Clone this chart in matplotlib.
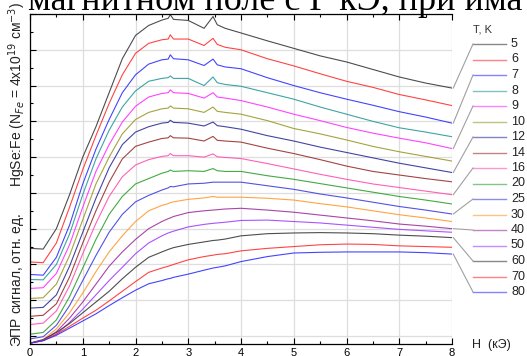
import matplotlib
matplotlib.use("Agg")
import matplotlib.pyplot as plt
from matplotlib.ticker import MultipleLocator, NullFormatter

# ---- data ----
H = [0, 0.25, 0.5, 0.75, 1.0, 1.25, 1.5, 1.75, 2.0, 2.25, 2.5, 2.62, 2.66, 2.72,
     3.0, 3.3, 3.47, 3.55, 3.7, 4.0, 4.5, 5.0, 5.5, 6.0, 6.5, 7.0, 7.5, 8.0]

temps = ["5", "6", "7", "8", "9", "10", "12", "14", "16", "20", "25", "30",
         "40", "50", "60", "70", "80"]

s5 = [2.45, 2.43, 3.0, 3.95, 5.0, 5.85, 6.8, 7.75, 8.4, 8.68, 8.83, 8.88, 8.98, 8.85, 8.82, 8.6, 8.93, 8.7, 8.6, 8.47, 8.25, 8.04, 7.83, 7.66, 7.45, 7.24, 7.07, 6.93]
s6 = [2.07, 2.05, 2.6, 3.6, 4.65, 5.6, 6.5, 7.3, 7.9, 8.18, 8.28, 8.3, 8.42, 8.3, 8.3, 8.12, 8.32, 8.15, 8.07, 8.0, 7.75, 7.55, 7.33, 7.12, 6.95, 6.75, 6.6, 6.44]
s7 = [1.72, 1.7, 2.2, 3.1, 4.25, 5.22, 6.05, 6.8, 7.3, 7.6, 7.72, 7.74, 7.86, 7.75, 7.72, 7.56, 7.74, 7.58, 7.52, 7.47, 7.22, 7.0, 6.8, 6.62, 6.45, 6.27, 6.12, 5.95]
s8 = [1.58, 1.57, 2.0, 2.85, 3.95, 4.95, 5.75, 6.4, 6.85, 7.12, 7.2, 7.22, 7.27, 7.2, 7.2, 7.0, 7.24, 7.08, 7.03, 6.98, 6.8, 6.62, 6.4, 6.2, 6.0, 5.82, 5.7, 5.57]
s9 = [1.33, 1.35, 1.75, 2.55, 3.6, 4.6, 5.35, 5.98, 6.42, 6.68, 6.78, 6.8, 6.88, 6.8, 6.78, 6.65, 6.8, 6.68, 6.65, 6.58, 6.4, 6.2, 6.02, 5.83, 5.67, 5.53, 5.4, 5.24]
s10 = [1.05, 1.07, 1.45, 2.25, 3.25, 4.25, 5.0, 5.65, 6.05, 6.25, 6.35, 6.37, 6.43, 6.37, 6.35, 6.25, 6.4, 6.28, 6.25, 6.2, 6.02, 5.8, 5.65, 5.48, 5.3, 5.15, 5.02, 4.89]
s12 = [0.78, 0.8, 1.15, 1.95, 2.9, 3.85, 4.7, 5.35, 5.7, 5.85, 5.95, 5.97, 6.03, 5.97, 5.95, 5.87, 5.98, 5.88, 5.85, 5.78, 5.6, 5.45, 5.28, 5.13, 4.98, 4.83, 4.7, 4.57]
s14 = [0.55, 0.58, 0.9, 1.65, 2.6, 3.5, 4.3, 4.95, 5.3, 5.42, 5.52, 5.54, 5.6, 5.54, 5.53, 5.45, 5.58, 5.47, 5.45, 5.42, 5.25, 5.1, 4.93, 4.75, 4.6, 4.5, 4.4, 4.31]
s16 = [0.32, 0.36, 0.7, 1.4, 2.3, 3.15, 3.9, 4.45, 4.78, 4.93, 5.02, 5.04, 5.1, 5.04, 5.04, 5.0, 5.09, 5.01, 4.99, 4.96, 4.82, 4.67, 4.52, 4.38, 4.25, 4.15, 4.05, 3.95]
s20 = [0.05, 0.1, 0.45, 1.1, 1.9, 2.7, 3.4, 3.9, 4.25, 4.4, 4.55, 4.6, 4.64, 4.6, 4.62, 4.6, 4.68, 4.62, 4.6, 4.6, 4.48, 4.38, 4.26, 4.14, 4.02, 3.9, 3.8, 3.69]
s25 = [-0.08, -0.02, 0.3, 0.85, 1.55, 2.25, 2.9, 3.4, 3.75, 3.93, 4.08, 4.14, 4.18, 4.17, 4.25, 4.27, 4.3, 4.3, 4.3, 4.3, 4.2, 4.1, 3.97, 3.86, 3.74, 3.62, 3.52, 3.41]
s30 = [-0.2, -0.1, 0.2, 0.65, 1.2, 1.8, 2.35, 2.8, 3.2, 3.5, 3.65, 3.7, 3.73, 3.75, 3.82, 3.86, 3.9, 3.88, 3.88, 3.88, 3.85, 3.8, 3.7, 3.61, 3.5, 3.39, 3.3, 3.2]
s40 = [-0.2, -0.12, 0.12, 0.5, 0.95, 1.45, 1.95, 2.35, 2.7, 3.0, 3.2, 3.28, 3.3, 3.34, 3.45, 3.5, 3.52, 3.53, 3.55, 3.57, 3.52, 3.46, 3.38, 3.3, 3.22, 3.13, 3.07, 3.0]
s50 = [-0.2, -0.13, 0.05, 0.38, 0.75, 1.15, 1.55, 1.92, 2.3, 2.6, 2.8, 2.88, 2.9, 2.93, 3.05, 3.12, 3.15, 3.16, 3.18, 3.23, 3.24, 3.2, 3.16, 3.1, 3.04, 2.98, 2.94, 2.9]
s60 = [-0.2, -0.1, 0.1, 0.35, 0.65, 0.95, 1.25, 1.6, 1.92, 2.2, 2.35, 2.42, 2.44, 2.47, 2.56, 2.63, 2.67, 2.68, 2.71, 2.8, 2.86, 2.88, 2.89, 2.88, 2.86, 2.82, 2.79, 2.75]
s70 = [-0.2, -0.12, 0.05, 0.27, 0.5, 0.72, 0.98, 1.25, 1.52, 1.78, 1.9, 1.95, 1.97, 2.0, 2.13, 2.22, 2.26, 2.28, 2.3, 2.38, 2.45, 2.5, 2.55, 2.57, 2.56, 2.52, 2.5, 2.48]
s80 = [-0.2, -0.13, 0.02, 0.22, 0.42, 0.62, 0.85, 1.07, 1.28, 1.46, 1.55, 1.6, 1.61, 1.64, 1.73, 1.84, 1.9, 1.92, 1.96, 2.08, 2.22, 2.32, 2.34, 2.35, 2.35, 2.35, 2.33, 2.29]

series = [s5, s6, s7, s8, s9, s10, s12, s14, s16, s20, s25, s30, s40, s50, s60, s70, s80]
colors = ["#3a3a3a", "#ff3030", "#3030ff", "#2a9a9a", "#ff30ff", "#9a9a2a", "#30309a",
          "#9a3030", "#ff50b0", "#30a030", "#4040e0", "#ff9a30", "#a030a0", "#a040ff",
          "#3a3a3a", "#ff3030", "#3030ff"]
leader_for = {"5", "7", "9", "12", "16", "25", "40", "60", "80"}

xticks = [0, 1, 2, 3, 4, 5, 6, 7, 8]

W, Hpx = 527, 356
fig = plt.figure(figsize=(W / 100, Hpx / 100), dpi=100)
plt.rcParams['font.family'] = ['Liberation Sans', 'DejaVu Sans']

ax_l, ax_r, ax_b, ax_t = 30, 452, 344, 14
ax = fig.add_axes([ax_l / W, 1 - ax_b / Hpx, (ax_r - ax_l) / W, (ax_b - ax_t) / Hpx])

for s, c in zip(series, colors):
    ax.plot(H, s, color=c, lw=0.8, alpha=0.9, solid_joinstyle='round')

ax.set_xlim(0, 8)
ax.set_ylim(-0.223, 9.0)
ax.set_xticks(xticks)
ax.set_xticklabels([str(t) for t in xticks], fontsize=8)
ax.xaxis.set_minor_locator(MultipleLocator(0.5))
ax.yaxis.set_major_locator(MultipleLocator(1))
ax.yaxis.set_minor_locator(MultipleLocator(0.5))
ax.yaxis.set_major_formatter(NullFormatter())
ax.tick_params(which='both', direction='in', top=True, right=False, width=0.8)
ax.tick_params(which='major', length=4.5, pad=3)
ax.tick_params(which='minor', length=2.5)
ax.grid(True, which='major', color='#dedede', lw=0.9)
ax.set_axisbelow(True)
ax.spines['right'].set_visible(False)
for sp in ['left', 'bottom', 'top']:
    ax.spines[sp].set_linewidth(0.9)

# legend (manual, Origin style) with leader lines
def fx(px):
    return (px - ax_l) / (ax_r - ax_l)

def fy(py):
    return (ax_b - py) / (ax_b - ax_t)

leg_y0, leg_dy = 44, 15.5
ax.text(fx(473), fy(29), "T, K", transform=ax.transAxes, fontsize=8,
        ha='left', va='center', color='#333333', clip_on=False)
for i, (t, s, c) in enumerate(zip(temps, series, colors)):
    ly = leg_y0 + i * leg_dy
    ax.plot([fx(473), fx(506)], [fy(ly), fy(ly)], transform=ax.transAxes,
            color=c, lw=1.0, alpha=0.6, clip_on=False)
    ax.text(fx(511), fy(ly), t, transform=ax.transAxes, fontsize=9,
            ha='left', va='center', color='#222222', clip_on=False)
    if t in leader_for:
        end_disp = ax.transData.transform((H[-1], s[-1]))
        end_ax = ax.transAxes.inverted().transform(end_disp)
        ax.plot([end_ax[0] + 0.003, fx(473)], [end_ax[1], fy(ly)],
                transform=ax.transAxes, color='#a0a0a0', lw=0.8, clip_on=False)

# x-axis label to the right
ax.text(fx(472), fy(345), "H  (кЭ)", transform=ax.transAxes, fontsize=9,
        ha='left', va='center', color='#222222', clip_on=False)

# y label
fig.text(17 / W, 1 - 347 / Hpx,
         "ЭПР сигнал, отн. ед.       HgSe:Fe (N$_{Fe}$ = 4x10$^{19}$ см$^{-3}$)",
         rotation=90, ha='center', va='bottom', fontsize=10, color='#222222')

# cropped heading text from the page above
fig.text(28 / W, 1 - 10 / Hpx, "магнитном поле с Г кЭ, при има",
         family=['Liberation Serif', 'DejaVu Serif'], fontsize=26,
         ha='left', va='baseline', color='black')

fig.savefig("out.png", dpi=100)
